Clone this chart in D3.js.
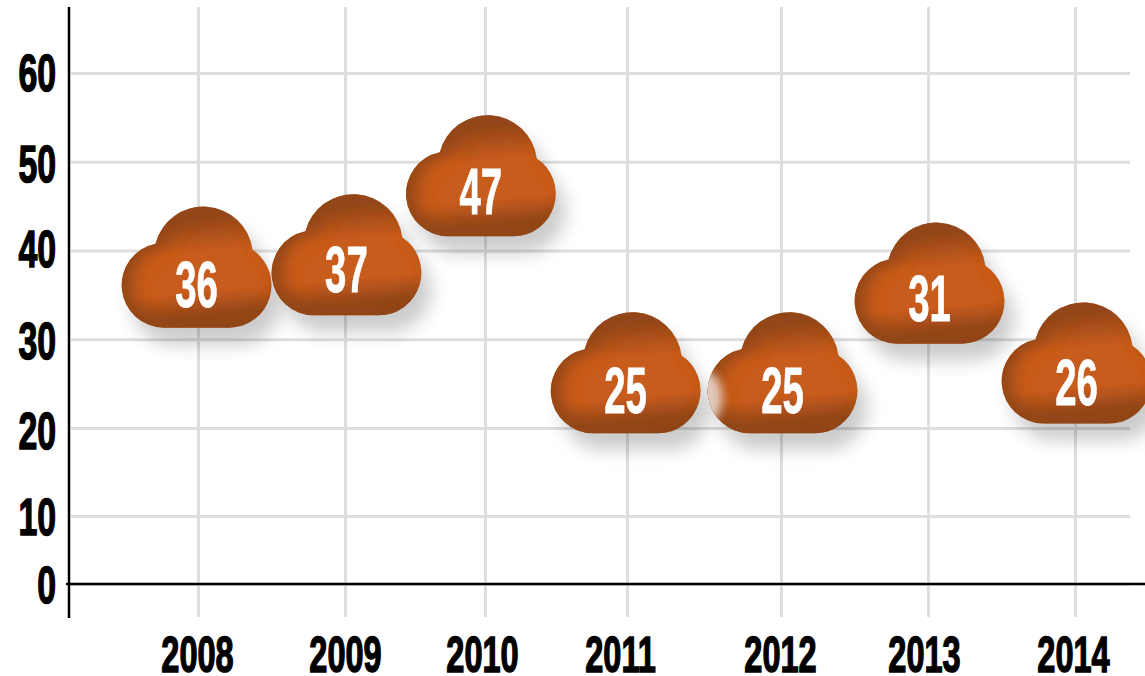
<!DOCTYPE html>
<html>
<head>
<meta charset="utf-8">
<script src="https://cdnjs.cloudflare.com/ajax/libs/d3/7.8.5/d3.min.js"></script>
<style>
  html, body { margin: 0; padding: 0; background: #fff; overflow: hidden; }
  text { font-family: "Liberation Sans", sans-serif; font-weight: bold; }
  .tick text { fill: #000; stroke: #000; stroke-width: 1.5px; font-size: 50px; }
  .cloud-label { fill: #fff; stroke: #fff; stroke-width: .8px; font-size: 65px; text-anchor: middle; }
</style>
</head>
<body>
<div class="container"></div>
<script>
const years = [2008, 2009, 2010, 2011, 2012, 2013, 2014];
const values = [36, 37, 47, 25, 25, 31, 26];
const cloudLevels = [36.2, 37.6, 46.5, 24.3, 24.3, 34.4, 25.4];
const cloudYears = [2007.99, 2009.01, 2009.97, 2010.99, 2012.01, 2013.01, 2014.01];
const yTicks = [0, 10, 20, 30, 40, 50, 60];

// hand-placed nudges, the labels in the picture are not regular
const yearLabelShift = [-1, 0, -3, -7, -1, -4, -2];
const valueLabelShift = [0, 0, 2, 1, -2, 2, -1];
const cloudLabelBase = [39.5, 37, 38.5, 40, 40, 38, 42];

const width = 1145;
const height = 676;

const svg = d3.select(".container")
                .append("svg")
                  .attr("width", width)
                  .attr("height", height)
                  .style("display", "block");

// the grid in the picture is not evenly spaced, so both scales are piecewise
const x = d3.scaleLinear()
            .domain(years)
            .range([198, 345, 485, 627, 781, 928, 1075]);

const y = d3.scaleLinear()
            .domain([0, 10, 20, 60, 67.5])
            .range([584, 516, 428, 73, 7]);

const cloudPath = "M-32.5,60.5 A42.5,42.5 0 0 1 -41,-23.6 A49.5,49.5 0 0 1 56,-17.4 " +
                  "A42.5,42.5 0 0 1 32.5,60.5 Z";

const defs = svg.append("defs");

// dark cap on top, dark band at the bottom, bright body
const body = defs.append("linearGradient")
    .attr("id", "cloudBody")
    .attr("x1", 0.44).attr("y1", 0)
    .attr("x2", 0.56).attr("y2", 1);
[[0, "#93471a"], [0.1, "#94471a"], [0.38, "#c85b1f"], [0.7, "#c85b1f"], [0.9, "#94471a"], [1, "#8f4519"]]
  .forEach(s => body.append("stop").attr("offset", s[0]).attr("stop-color", s[1]));

// inner shadow, heavier on the left side
const bevel = defs.append("filter")
    .attr("id", "bevel")
    .attr("x", "-20%").attr("y", "-20%")
    .attr("width", "140%").attr("height", "140%");
bevel.append("feOffset")
    .attr("in", "SourceAlpha").attr("dx", 11).attr("dy", 0).attr("result", "moved");
bevel.append("feGaussianBlur")
    .attr("in", "moved").attr("stdDeviation", 8).attr("result", "soft");
bevel.append("feFlood")
    .attr("flood-color", "#93471a").attr("result", "dark");
bevel.append("feComposite")
    .attr("in", "dark").attr("in2", "soft").attr("operator", "out").attr("result", "rim");
bevel.append("feComposite")
    .attr("in", "rim").attr("in2", "SourceAlpha").attr("operator", "in").attr("result", "inner");
const bevelMerge = bevel.append("feMerge");
bevelMerge.append("feMergeNode").attr("in", "SourceGraphic");
bevelMerge.append("feMergeNode").attr("in", "inner");

const shadow = defs.append("filter")
    .attr("id", "shadow")
    .attr("x", "-30%").attr("y", "-30%")
    .attr("width", "170%").attr("height", "170%");
shadow.append("feGaussianBlur").attr("stdDeviation", 9);

const patchBlur = defs.append("filter").attr("id", "patchBlur")
    .attr("x", "-100%").attr("y", "-100%").attr("width", "300%").attr("height", "300%");
patchBlur.append("feGaussianBlur").attr("stdDeviation", 5);

defs.append("clipPath").attr("id", "cloudClip")
    .append("path").attr("d", cloudPath);

// year grid
const xAxis = svg.append("g")
    .attr("transform", "translate(0,617)")
    .call(d3.axisBottom(x).tickValues(years).tickFormat(d3.format("d")).tickSize(-610).tickPadding(19));
xAxis.select(".domain").remove();
xAxis.selectAll("line").attr("stroke", "#dedede").attr("stroke-width", 3);
xAxis.selectAll("text").attr("dx", (d, i) => yearLabelShift[i]);

// value grid
const yAxis = svg.append("g")
    .attr("transform", "translate(69,0)")
    .call(d3.axisLeft(y).tickValues(yTicks).tickSize(0).tickPadding(13));
yAxis.select(".domain").remove();
yAxis.selectAll("line")
    .attr("x1", 2)
    .attr("x2", 1061)
    .attr("stroke", "#dedede")
    .attr("stroke-width", 3);
yAxis.selectAll("text")
    .style("font-size", "52px")
    .attr("dy", (d, i) => 18 + valueLabelShift[i]);

// no condensed face is installed, so squeeze the glyphs to the reference's width
svg.selectAll(".tick text").each(function() {
  const t = d3.select(this);
  t.attr("lengthAdjust", "spacingAndGlyphs")
   .attr("textLength", this.getComputedTextLength() * 0.65);
});

// black axis lines go over the grid
svg.append("line")
    .attr("x1", 69).attr("x2", 69)
    .attr("y1", 7).attr("y2", 618)
    .attr("stroke", "#000").attr("stroke-width", 2.5);
svg.append("line")
    .attr("x1", 66).attr("x2", width)
    .attr("y1", y(0)).attr("y2", y(0))
    .attr("stroke", "#000").attr("stroke-width", 2.5);

const clouds = svg.selectAll(".cloud")
    .data(years)
    .enter()
    .append("g")
      .classed("cloud", true)
      .attr("transform", (d, i) => "translate(" + x(cloudYears[i]) + "," + (y(cloudLevels[i]) - 17) + ")");

clouds.append("path")
    .attr("d", cloudPath)
    .attr("transform", "translate(10,17)")
    .attr("fill", "#000")
    .attr("opacity", 0.2)
    .attr("filter", "url(#shadow)");

clouds.append("path")
    .attr("d", cloudPath)
    .attr("fill", "url(#cloudBody)")
    .attr("filter", "url(#bevel)");

// pale smear on the left of the 2012 cloud
clouds.filter(d => d === 2012)
    .append("g")
      .attr("clip-path", "url(#cloudClip)")
    .append("ellipse")
      .attr("cx", -76)
      .attr("cy", 25)
      .attr("rx", 16)
      .attr("ry", 26)
      .attr("fill", "#fff")
      .attr("opacity", 0.7)
      .attr("filter", "url(#patchBlur)");

clouds.append("text")
    .classed("cloud-label", true)
    .attr("y", (d, i) => cloudLabelBase[i])
    .text((d, i) => values[i])
    .attr("lengthAdjust", "spacingAndGlyphs")
    .attr("textLength", function() { return this.getComputedTextLength() * 0.59; });
</script>
</body>
</html>
